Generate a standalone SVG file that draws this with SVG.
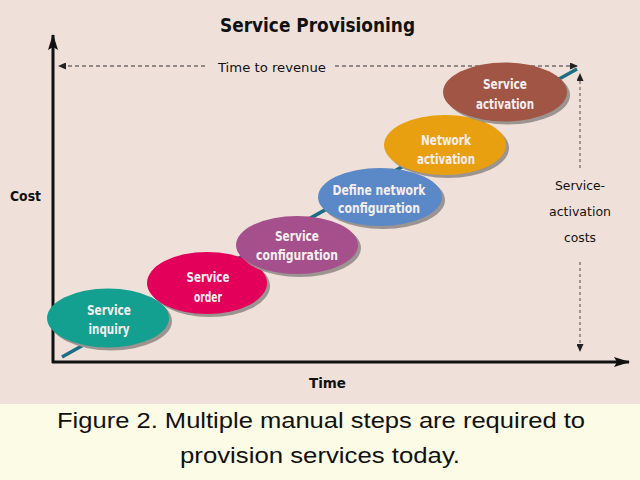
<svg xmlns="http://www.w3.org/2000/svg" width="640" height="480" viewBox="0 0 640 480">
<style>
.lbl{font-family:"Liberation Sans Narrow","DejaVu Sans Condensed","DejaVu Sans",sans-serif;font-stretch:condensed;fill:#111;}
.nt{font-family:"Liberation Sans Narrow","DejaVu Sans Condensed","DejaVu Sans",sans-serif;font-stretch:condensed;font-size:14px;font-weight:bold;fill:#f6eef0;text-anchor:middle;}
.sh{fill:#9c9490;}
.dash{stroke:#333;stroke-width:1.2;stroke-dasharray:4 3;fill:none;}
.vdash{stroke:#666;stroke-width:1.2;stroke-dasharray:3 3;fill:none;}
.cap{font-family:"Liberation Sans",Arial,sans-serif;font-size:22px;fill:#111;text-anchor:middle;}
</style>
<defs>
<marker id="big" markerUnits="userSpaceOnUse" markerWidth="16" markerHeight="10" refX="15" refY="5" orient="auto"><path d="M0,0 L16,5 L0,10 L3,5 Z" fill="#111"/></marker>
<marker id="small" markerUnits="userSpaceOnUse" markerWidth="8" markerHeight="7" refX="8" refY="3.5" orient="auto"><path d="M0,0 L8,3.5 L0,7 Z" fill="#222"/></marker>
</defs>
<rect x="0" y="0" width="640" height="404" fill="#efe1d9"/>
<rect x="0" y="404" width="640" height="76" fill="#fbfbe6"/>
<text class="lbl" x="220" y="32" font-size="19" font-weight="bold" textLength="195" lengthAdjust="spacingAndGlyphs">Service Provisioning</text>
<g id="connectors">
<line x1="62" y1="357" x2="577" y2="69" stroke="#1d6e84" stroke-width="3.5"/>
<line x1="53" y1="363" x2="53" y2="35" stroke="#111" stroke-width="3" marker-end="url(#big)"/>
<line x1="52" y1="362" x2="629" y2="362" stroke="#111" stroke-width="3" marker-end="url(#big)"/>
<line class="dash" x1="205" y1="66" x2="58" y2="66" marker-end="url(#small)"/>
<line class="dash" x1="335" y1="66" x2="578" y2="66" marker-end="url(#small)"/>
<line class="vdash" x1="580" y1="168" x2="580" y2="73" marker-end="url(#small)"/>
<line class="vdash" x1="580" y1="262" x2="580" y2="352" marker-end="url(#small)"/>
</g>
<text class="lbl" x="218" y="72" font-size="13" textLength="108" lengthAdjust="spacingAndGlyphs">Time to revenue</text>
<text class="lbl" x="10" y="201" font-size="14" font-weight="bold" textLength="31" lengthAdjust="spacingAndGlyphs">Cost</text>
<text class="lbl" x="309" y="388" font-size="14" font-weight="bold" textLength="37" lengthAdjust="spacingAndGlyphs">Time</text>
<g class="lbl" font-size="13" text-anchor="middle">
<text x="580" y="190" textLength="50" lengthAdjust="spacingAndGlyphs">Service-</text>
<text x="580" y="216" textLength="62" lengthAdjust="spacingAndGlyphs">activation</text>
<text x="580" y="242" textLength="32" lengthAdjust="spacingAndGlyphs">costs</text>
</g>
<g id="service-inquiry">
<ellipse class="sh" cx="111" cy="321" rx="61" ry="29.5"/>
<ellipse cx="108" cy="318" rx="61" ry="29.5" fill="#13a091"/>
<text class="nt" x="109" y="315" textLength="44" lengthAdjust="spacingAndGlyphs">Service</text>
<text class="nt" x="109" y="334" textLength="41" lengthAdjust="spacingAndGlyphs">inquiry</text>
</g>
<g id="service-order">
<ellipse class="sh" cx="210" cy="286" rx="60" ry="31"/>
<ellipse cx="207" cy="283" rx="60" ry="31" fill="#e2005a"/>
<text class="nt" x="208" y="282" textLength="43" lengthAdjust="spacingAndGlyphs">Service</text>
<text class="nt" x="208" y="302" textLength="28" lengthAdjust="spacingAndGlyphs">order</text>
</g>
<g id="service-configuration">
<ellipse class="sh" cx="300" cy="248" rx="61" ry="29"/>
<ellipse cx="297" cy="245" rx="61" ry="29" fill="#a54f8c"/>
<text class="nt" x="297" y="241" textLength="44" lengthAdjust="spacingAndGlyphs">Service</text>
<text class="nt" x="297" y="260" textLength="82" lengthAdjust="spacingAndGlyphs">configuration</text>
</g>
<g id="define-network-configuration">
<ellipse class="sh" cx="383" cy="200" rx="62" ry="29"/>
<ellipse cx="380" cy="197" rx="62" ry="29" fill="#5b88c6"/>
<text class="nt" x="379" y="195" textLength="93" lengthAdjust="spacingAndGlyphs">Define network</text>
<text class="nt" x="379" y="213" textLength="82" lengthAdjust="spacingAndGlyphs">configuration</text>
</g>
<g id="network-activation">
<ellipse class="sh" cx="448" cy="148" rx="61" ry="30"/>
<ellipse cx="445" cy="145" rx="61" ry="30" fill="#e8a010"/>
<text class="nt" x="446" y="145" textLength="50" lengthAdjust="spacingAndGlyphs">Network</text>
<text class="nt" x="446" y="164" textLength="58" lengthAdjust="spacingAndGlyphs">activation</text>
</g>
<g id="service-activation">
<ellipse class="sh" cx="508" cy="95" rx="62" ry="29.5"/>
<ellipse cx="505" cy="92" rx="62" ry="29.5" fill="#a05545"/>
<text class="nt" x="505" y="89" textLength="44" lengthAdjust="spacingAndGlyphs">Service</text>
<text class="nt" x="505" y="109" textLength="58" lengthAdjust="spacingAndGlyphs">activation</text>
</g>
<text class="cap" x="321" y="428" textLength="528" lengthAdjust="spacingAndGlyphs">Figure 2. Multiple manual steps are required to</text>
<text class="cap" x="320" y="463" textLength="280" lengthAdjust="spacingAndGlyphs">provision services today.</text>
</svg>
